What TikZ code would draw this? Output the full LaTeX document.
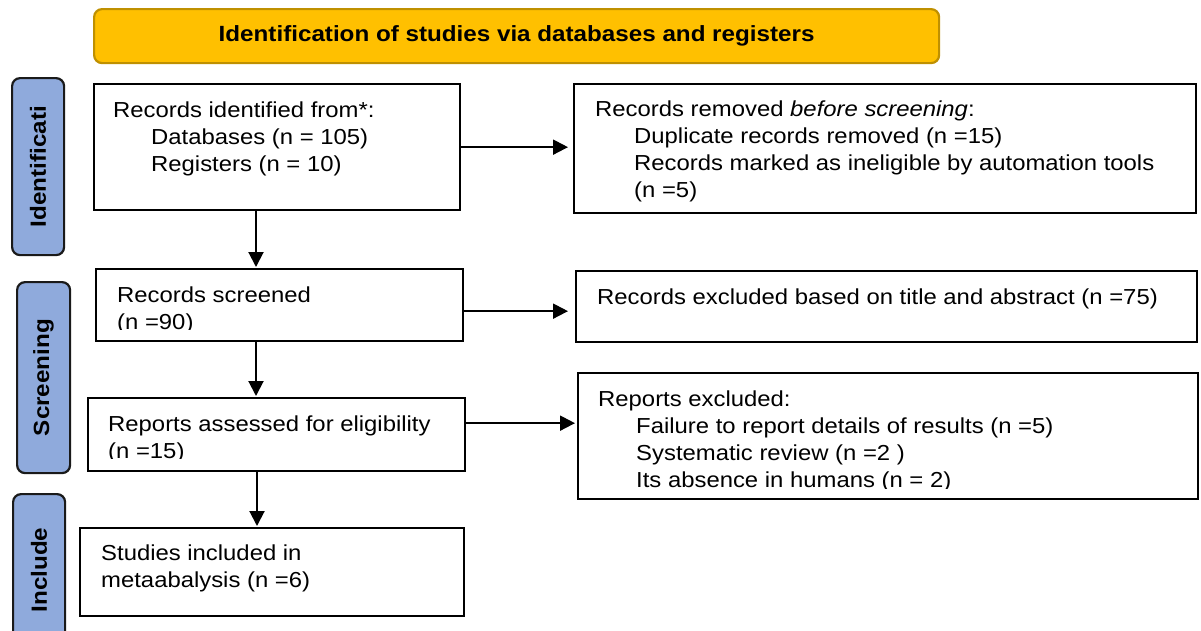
\documentclass[tikz,border=0pt]{standalone}
\usepackage{fontspec}
\setmainfont{Liberation Sans}[FakeStretch=1.1]
\usetikzlibrary{arrows.meta}
\definecolor{titlefill}{HTML}{FFC000}
\definecolor{titleedge}{HTML}{BF9000}
\definecolor{phasefill}{HTML}{8FAADC}
\definecolor{phaseedge}{HTML}{1A1A1A}
\begin{document}
\begin{tikzpicture}[x=1pt,y=-1pt,
  flowbox/.style={draw=black, line width=2.3pt, rectangle, inner sep=0pt, anchor=north west},
  phasebox/.style={draw=phaseedge, fill=phasefill, line width=2.2pt, rounded corners=8pt,
                   rectangle, inner sep=0pt, anchor=north west},
  phaselabel/.style={font=\fontsize{22}{26}\selectfont\bfseries, rotate=90, inner sep=0pt},
  bodytext/.style={font=\fontsize{21.7}{27}\selectfont, align=left, inner sep=0pt, anchor=north west},
  flowarrow/.style={line width=2pt, -{Triangle[length=15pt,width=15pt]}}
]
\useasboundingbox (0,0) rectangle (1201,630);

% banner
\node[draw=titleedge, fill=titlefill, line width=2.2pt, rounded corners=8pt, inner sep=0pt,
      anchor=north west, minimum width=845pt, minimum height=54pt] (title) at (93,8) {};
\node[font=\fontsize{22}{26}\selectfont\bfseries, inner sep=0pt] (titletext) at (title.center)
  {Identification of studies via databases and registers};

% phase tabs on the left
\node[phasebox, minimum width=52pt, minimum height=177pt] (ph1) at (11,77) {};
\node[phaselabel] (ph1t) at (ph1.center) {Identificati};
\node[phasebox, minimum width=53pt, minimum height=191pt] (ph2) at (16,281) {};
\node[phaselabel] (ph2t) at (ph2.center) {Screening};
\node[phasebox, minimum width=52pt, minimum height=152pt] (ph3) at (12,493) {};
\node[phaselabel] (ph3t) at (ph3.center) {Include};

% flow boxes
\node[flowbox, minimum width=366pt, minimum height=126pt] (b1) at (93,83) {};
\node[flowbox, minimum width=622pt, minimum height=129pt] (b2) at (573,83) {};
\node[flowbox, minimum width=367pt, minimum height=72pt]  (b3) at (95,268) {};
\node[flowbox, minimum width=621pt, minimum height=71pt]  (b4) at (575,270) {};
\node[flowbox, minimum width=377pt, minimum height=73pt]  (b5) at (87,397) {};
\node[flowbox, minimum width=620pt, minimum height=126pt] (b6) at (577,372) {};
\node[flowbox, minimum width=384pt, minimum height=88pt]  (b7) at (79,527) {};

% box texts (first baseline 34 below the box top; strut height 18.9)
\node[bodytext] (t1) at (113,98.1)
  {\strut Records identified from*:\\
   \hspace*{38pt}Databases (n = 105)\\
   \hspace*{38pt}Registers (n = 10)};
\node[bodytext] (t2) at (595,97.1)
  {\strut Records removed \textit{before screening}:\\
   \hspace*{39pt}Duplicate records removed (n =15)\\
   \hspace*{39pt}Records marked as ineligible by automation tools\\
   \hspace*{39pt}(n =5)};
\begin{scope}
  \clip (95,268) rectangle (462,329);
  \node[bodytext] (t3) at (117,283.1) {\strut Records screened\\(n =90)};
\end{scope}
\node[bodytext] (t4) at (597,285.1)
  {\strut Records excluded based on title and abstract (n =75)};
\begin{scope}
  \clip (87,397) rectangle (464,458);
  \node[bodytext] (t5) at (108,412.1) {\strut Reports assessed for eligibility\\(n =15)};
\end{scope}
\begin{scope}
  \clip (577,372) rectangle (1197,488);
  \node[bodytext] (t6) at (598,387.1)
    {\strut Reports excluded:\\
     \hspace*{38pt}Failure to report details of results (n =5)\\
     \hspace*{38pt}Systematic review (n =2 )\\
     \hspace*{38pt}Its absence in humans (n = 2)};
\end{scope}
\node[bodytext] (t7) at (101,541.1)
  {\strut Studies included in\\metaabalysis (n =6)};

% connectors
\draw[flowarrow, shorten >=5pt] (b1.east) -- (b1.east -| b2.west);
\draw[flowarrow, shorten >=7pt] ([yshift=-6pt]b3.east) -- ([yshift=-6pt]b3.east -| b4.west);
\draw[flowarrow, shorten >=2pt] ([yshift=11.5pt]b5.east) -- ([yshift=11.5pt]b5.east -| b6.west);
\draw[flowarrow, shorten >=1pt] ([xshift=163pt]b1.south west) -- ([xshift=163pt]b1.south west |- b3.north);
\draw[flowarrow, shorten >=1pt] ([xshift=161pt]b3.south west) -- ([xshift=161pt]b3.south west |- b5.north);
\draw[flowarrow, shorten >=1pt] ([xshift=170pt]b5.south west) -- ([xshift=170pt]b5.south west |- b7.north);
\end{tikzpicture}
\end{document}
